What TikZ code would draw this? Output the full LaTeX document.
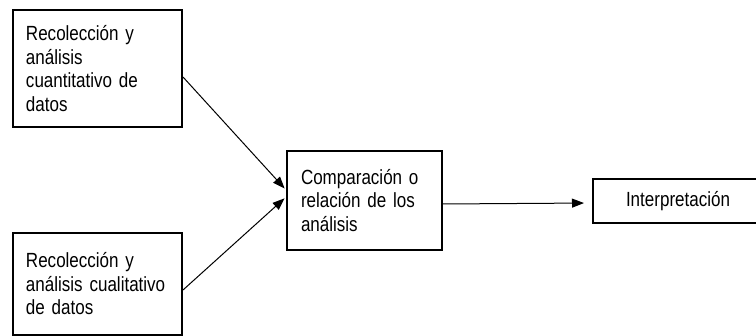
\documentclass[tikz,border=0pt]{standalone}
\usepackage{fontspec}
\setmainfont{Liberation Sans}[FakeStretch=0.83]
\usetikzlibrary{arrows.meta}
\tikzset{
  box/.style={draw, line width=2pt, rectangle, align=left, inner ysep=0pt,
    font=\fontsize{20.5}{23.5}\selectfont},
  arr/.style={line width=1pt, -{Triangle[length=12pt,width=9pt]}}
}
\begin{document}
\begin{tikzpicture}[x=1pt,y=-1pt]
\useasboundingbox (0,0) rectangle (756,336);
\node[box, inner xsep=13pt, text width=143pt, minimum width=169pt, minimum height=117pt] (b1) at (97.5,68.5)
  {Recolección y\\análisis\\cuantitativo de\\datos};
\node[box, inner xsep=13pt, text width=143pt, minimum width=169pt, minimum height=102pt] (b2) at (97.5,284)
  {Recolección y\\análisis cualitativo\\de datos};
\node[box, inner xsep=14pt, text width=127pt, minimum width=155pt, minimum height=99pt] (b3) at (364.5,200.5)
  {Comparación o\\relación de los\\análisis};
\node[box, inner xsep=33pt, text width=122pt, minimum width=188pt, minimum height=44pt] (b4) at (687,201)
  {Interpretación};
\draw[arr, shorten >=2pt] ([yshift=-8.5pt]b1.east) -- ([yshift=10.5pt]b3.west);
\draw[arr, shorten >=2pt] ([yshift=-6pt]b2.east) -- ([yshift=3.5pt]b3.west);
\draw[arr, shorten >=8pt] ([yshift=-3.5pt]b3.east) -- ([yshift=-2pt]b4.west);
\end{tikzpicture}
\end{document}
